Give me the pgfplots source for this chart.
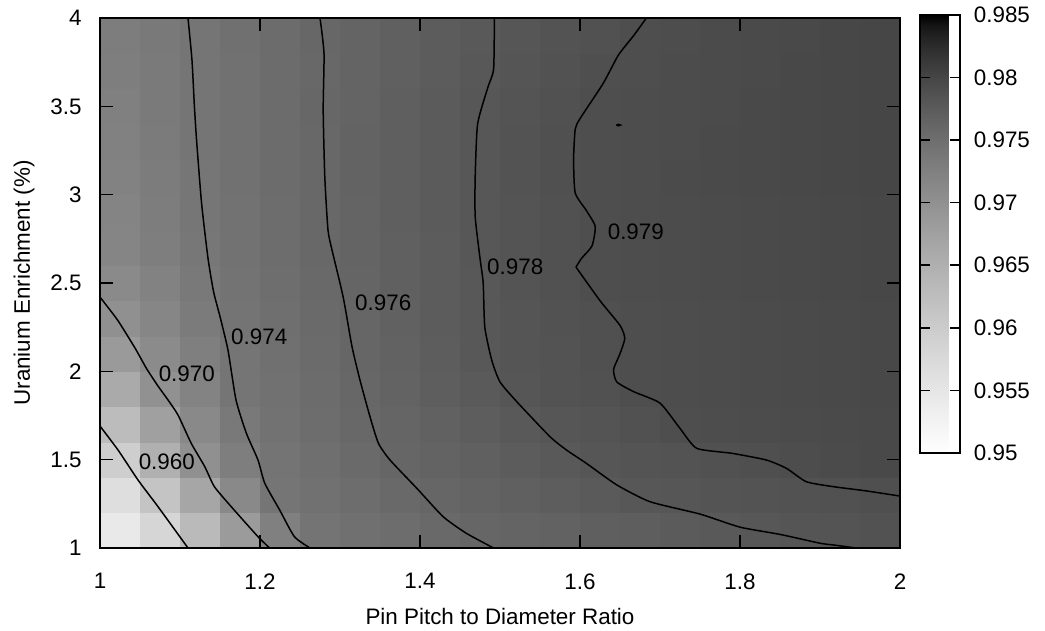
\documentclass[border=0pt]{standalone}
\usepackage{fontspec}
\setmainfont{Liberation Sans}
\usepackage{pgfplots}
\pgfplotsset{compat=1.18}

\begin{document}
\fontsize{11.2}{13}\selectfont
\begin{tikzpicture}
\path[use as bounding box] (-50pt,-41.5pt) rectangle (472.5pt,274pt);
\begin{axis}[
  at={(0,0)}, anchor=south west,
  scale only axis, width=400pt, height=265pt,
  xmin=1, xmax=2, ymin=1, ymax=4,
  enlargelimits=false, axis on top,
  xtick={1,1.2,1.4,1.6,1.8,2}, xticklabels={1,1.2,1.4,1.6,1.8,2},
  ytick={1,1.5,2,2.5,3,3.5,4}, yticklabels={1,1.5,2,2.5,3,3.5,4},
  tick align=inside, tick pos=both, major tick length=6.5pt,
  axis line style={line width=0.8pt}, every tick/.style={black,line width=0.8pt},
  xticklabel style={yshift=-8.8pt},
  yticklabel style={xshift=-5.3pt},
  xlabel={Pin Pitch to Diameter Ratio},
  ylabel={Uranium Enrichment (\%)},
  x label style={at={(axis description cs:0.5,0)}, anchor=center, yshift=-34pt},
  y label style={at={(axis description cs:0,0.5)}, anchor=center, yshift=38pt},
  colormap={gnugray}{gray(0cm)=(1); gray(2cm)=(0.9664); gray(4cm)=(0.9322);
    gray(6cm)=(0.8973); gray(8cm)=(0.8618); gray(10cm)=(0.8255); gray(12cm)=(0.7884);
    gray(14cm)=(0.7504); gray(16cm)=(0.7114); gray(18cm)=(0.6713); gray(20cm)=(0.6300);
    gray(22cm)=(0.5872); gray(24cm)=(0.5429); gray(26cm)=(0.4966); gray(28cm)=(0.4481);
    gray(30cm)=(0.3969); gray(32cm)=(0.3420); gray(34cm)=(0.2823); gray(36cm)=(0.2154);
    gray(38cm)=(0.1357); gray(39cm)=(0.0855); gray(40cm)=(0)},
  point meta min=0.95, point meta max=0.985,
  colorbar,
  colorbar style={
    at={(1.025,1.0057)}, anchor=north west,
    width=20pt, height=219pt,
    ytick={0.95,0.955,0.96,0.965,0.97,0.975,0.98,0.985},
    yticklabels={0.95,0.955,0.96,0.965,0.97,0.975,0.98,0.985},
    tick align=inside, ytick pos=both, yticklabel pos=right,
    major tick length=5pt,
    axis line style={line width=0.8pt}, every tick/.style={black,line width=0.8pt},
    yticklabel style={xshift=3pt},
  },
  contour/.style={black, line width=0.75pt, no markers, smooth, tension=0.35},
]
% cell colours: value of each cell stored at its lower-left corner
\addplot[surf, shader=flat corner, mesh/cols=21, point meta=explicit] table[meta=c] {
x y c
1.00 1.0 0.9545
1.05 1.0 0.9580
1.10 1.0 0.9632
1.15 1.0 0.9684
1.20 1.0 0.9725
1.25 1.0 0.9743
1.30 1.0 0.9748
1.35 1.0 0.9752
1.40 1.0 0.9757
1.45 1.0 0.9761
1.50 1.0 0.9764
1.55 1.0 0.9767
1.60 1.0 0.9770
1.65 1.0 0.9772
1.70 1.0 0.9775
1.75 1.0 0.9778
1.80 1.0 0.97805
1.85 1.0 0.9782
1.90 1.0 0.9784
1.95 1.0 0.9786
2.00 1.0 0.9786
1.00 1.2 0.9565
1.05 1.2 0.96135
1.10 1.2 0.96656
1.15 1.2 0.97119
1.20 1.2 0.97411
1.25 1.2 0.97464
1.30 1.2 0.97517
1.35 1.2 0.9757
1.40 1.2 0.97616
1.45 1.2 0.97654
1.50 1.2 0.97691
1.55 1.2 0.97729
1.60 1.2 0.97766
1.65 1.2 0.97802
1.70 1.2 0.97817
1.75 1.2 0.97832
1.80 1.2 0.97847
1.85 1.2 0.97862
1.90 1.2 0.97877
1.95 1.2 0.97892
2.00 1.2 0.97892
1.00 1.4 0.9595
1.05 1.4 0.96495
1.10 1.4 0.97021
1.15 1.4 0.97277
1.20 1.4 0.97432
1.25 1.4 0.97493
1.30 1.4 0.97555
1.35 1.4 0.97611
1.40 1.4 0.97653
1.45 1.4 0.97695
1.50 1.4 0.97737
1.55 1.4 0.97779
1.60 1.4 0.97811
1.65 1.4 0.97832
1.70 1.4 0.97854
1.75 1.4 0.97875
1.80 1.4 0.97897
1.85 1.4 0.97918
1.90 1.4 0.97939
1.95 1.4 0.9796
2.00 1.4 0.9796
1.00 1.6 0.96286
1.05 1.6 0.96762
1.10 1.6 0.9712
1.15 1.6 0.97361
1.20 1.6 0.97454
1.25 1.6 0.97517
1.30 1.6 0.97581
1.35 1.6 0.97633
1.40 1.6 0.97679
1.45 1.6 0.97726
1.50 1.6 0.97772
1.55 1.6 0.97812
1.60 1.6 0.97842
1.65 1.6 0.97871
1.70 1.6 0.97901
1.75 1.6 0.97913
1.80 1.6 0.97926
1.85 1.6 0.97938
1.90 1.6 0.9795
1.95 1.6 0.97962
2.00 1.6 0.97962
1.00 1.8 0.9660
1.05 1.8 0.9700
1.10 1.8 0.97211
1.15 1.8 0.97406
1.20 1.8 0.9747
1.25 1.8 0.97534
1.30 1.8 0.97597
1.35 1.8 0.97654
1.40 1.8 0.9771
1.45 1.8 0.97766
1.50 1.8 0.97813
1.55 1.8 0.97844
1.60 1.8 0.97875
1.65 1.8 0.97903
1.70 1.8 0.97915
1.75 1.8 0.97928
1.80 1.8 0.9794
1.85 1.8 0.97953
1.90 1.8 0.97966
1.95 1.8 0.9798
2.00 1.8 0.9798
1.00 2.0 0.9685
1.05 2.0 0.97098
1.10 2.0 0.97274
1.15 2.0 0.97418
1.20 2.0 0.97483
1.25 2.0 0.97547
1.30 2.0 0.9761
1.35 2.0 0.97669
1.40 2.0 0.97727
1.45 2.0 0.97785
1.50 2.0 0.97823
1.55 2.0 0.97854
1.60 2.0 0.97886
1.65 2.0 0.97907
1.70 2.0 0.97919
1.75 2.0 0.97932
1.80 2.0 0.97944
1.85 2.0 0.97956
1.90 2.0 0.97968
1.95 2.0 0.9798
2.00 2.0 0.9798
1.00 2.2 0.97021
1.05 2.2 0.97173
1.10 2.2 0.97324
1.15 2.2 0.97432
1.20 2.2 0.97495
1.25 2.2 0.97558
1.30 2.2 0.97619
1.35 2.2 0.97677
1.40 2.2 0.97734
1.45 2.2 0.97791
1.50 2.2 0.97826
1.55 2.2 0.97857
1.60 2.2 0.97888
1.65 2.2 0.97907
1.70 2.2 0.97919
1.75 2.2 0.97932
1.80 2.2 0.97944
1.85 2.2 0.97956
1.90 2.2 0.97968
1.95 2.2 0.9798
2.00 2.2 0.9798
1.00 2.4 0.9710
1.05 2.4 0.97232
1.10 2.4 0.97361
1.15 2.4 0.97444
1.20 2.4 0.97506
1.25 2.4 0.97569
1.30 2.4 0.97628
1.35 2.4 0.97684
1.40 2.4 0.9774
1.45 2.4 0.97796
1.50 2.4 0.97835
1.55 2.4 0.97873
1.60 2.4 0.97904
1.65 2.4 0.97916
1.70 2.4 0.97928
1.75 2.4 0.9794
1.80 2.4 0.97953
1.85 2.4 0.97965
1.90 2.4 0.97978
1.95 2.4 0.9799
2.00 2.4 0.9799
1.00 2.6 0.9718
1.05 2.6 0.97282
1.10 2.6 0.97384
1.15 2.6 0.97454
1.20 2.6 0.97518
1.25 2.6 0.97582
1.30 2.6 0.97639
1.35 2.6 0.97692
1.40 2.6 0.97746
1.45 2.6 0.9780
1.50 2.6 0.97836
1.55 2.6 0.97873
1.60 2.6 0.97903
1.65 2.6 0.97915
1.70 2.6 0.97928
1.75 2.6 0.9794
1.80 2.6 0.97953
1.85 2.6 0.97965
1.90 2.6 0.97978
1.95 2.6 0.9799
2.00 2.6 0.9799
1.00 2.8 0.9720
1.05 2.8 0.97296
1.10 2.8 0.97392
1.15 2.8 0.9746
1.20 2.8 0.97525
1.25 2.8 0.9759
1.30 2.8 0.97645
1.35 2.8 0.97699
1.40 2.8 0.97753
1.45 2.8 0.97804
1.50 2.8 0.97841
1.55 2.8 0.97877
1.60 2.8 0.97905
1.65 2.8 0.97917
1.70 2.8 0.97929
1.75 2.8 0.97941
1.80 2.8 0.97953
1.85 2.8 0.97966
1.90 2.8 0.97978
1.95 2.8 0.9799
2.00 2.8 0.9799
1.00 3.0 0.9722
1.05 3.0 0.97311
1.10 3.0 0.97401
1.15 3.0 0.97465
1.20 3.0 0.97529
1.25 3.0 0.97592
1.30 3.0 0.97647
1.35 3.0 0.9770
1.40 3.0 0.97753
1.45 3.0 0.97805
1.50 3.0 0.97846
1.55 3.0 0.97886
1.60 3.0 0.97909
1.65 3.0 0.97922
1.70 3.0 0.97935
1.75 3.0 0.97948
1.80 3.0 0.97961
1.85 3.0 0.97974
1.90 3.0 0.97987
1.95 3.0 0.9800
2.00 3.0 0.9800
1.00 3.2 0.9724
1.05 3.2 0.97323
1.10 3.2 0.97405
1.15 3.2 0.97468
1.20 3.2 0.97531
1.25 3.2 0.97594
1.30 3.2 0.97647
1.35 3.2 0.9770
1.40 3.2 0.97753
1.45 3.2 0.97804
1.50 3.2 0.97844
1.55 3.2 0.97884
1.60 3.2 0.97908
1.65 3.2 0.97921
1.70 3.2 0.97934
1.75 3.2 0.97947
1.80 3.2 0.9796
1.85 3.2 0.97974
1.90 3.2 0.97987
1.95 3.2 0.9800
2.00 3.2 0.9800
1.00 3.4 0.9726
1.05 3.4 0.97335
1.10 3.4 0.97409
1.15 3.4 0.97471
1.20 3.4 0.97533
1.25 3.4 0.97595
1.30 3.4 0.97646
1.35 3.4 0.97697
1.40 3.4 0.97747
1.45 3.4 0.97797
1.50 3.4 0.97837
1.55 3.4 0.97876
1.60 3.4 0.97905
1.65 3.4 0.97919
1.70 3.4 0.97932
1.75 3.4 0.97946
1.80 3.4 0.97959
1.85 3.4 0.97973
1.90 3.4 0.97986
1.95 3.4 0.9800
2.00 3.4 0.9800
1.00 3.6 0.9728
1.05 3.6 0.97346
1.10 3.6 0.97411
1.15 3.6 0.97472
1.20 3.6 0.97533
1.25 3.6 0.97594
1.30 3.6 0.97643
1.35 3.6 0.9769
1.40 3.6 0.97737
1.45 3.6 0.97785
1.50 3.6 0.97823
1.55 3.6 0.97857
1.60 3.6 0.97891
1.65 3.6 0.97911
1.70 3.6 0.97926
1.75 3.6 0.9794
1.80 3.6 0.97955
1.85 3.6 0.9797
1.90 3.6 0.97985
1.95 3.6 0.9800
2.00 3.6 0.9800
1.00 3.8 0.9730
1.05 3.8 0.97357
1.10 3.8 0.97416
1.15 3.8 0.97476
1.20 3.8 0.97537
1.25 3.8 0.97598
1.30 3.8 0.97644
1.35 3.8 0.97691
1.40 3.8 0.97737
1.45 3.8 0.97783
1.50 3.8 0.97818
1.55 3.8 0.97847
1.60 3.8 0.97876
1.65 3.8 0.97903
1.70 3.8 0.97919
1.75 3.8 0.97935
1.80 3.8 0.97951
1.85 3.8 0.97968
1.90 3.8 0.97984
1.95 3.8 0.9800
2.00 3.8 0.9800
1.00 4.0 0.9730
1.05 4.0 0.97357
1.10 4.0 0.97416
1.15 4.0 0.97476
1.20 4.0 0.97537
1.25 4.0 0.97598
1.30 4.0 0.97644
1.35 4.0 0.97691
1.40 4.0 0.97737
1.45 4.0 0.97783
1.50 4.0 0.97818
1.55 4.0 0.97847
1.60 4.0 0.97876
1.65 4.0 0.97903
1.70 4.0 0.97919
1.75 4.0 0.97935
1.80 4.0 0.97951
1.85 4.0 0.97968
1.90 4.0 0.97984
1.95 4.0 0.9800
2.00 4.0 0.9800
};
% contour 0.960
\addplot[contour] coordinates {
(1,1.69) (1.0225,1.555) (1.0475,1.385) (1.0725,1.234) (1.11,1.0)};
% contour 0.970
\addplot[contour] coordinates {
(1,2.42) (1.022,2.29) (1.044,2.13) (1.058,2.017) (1.072,1.92) (1.085,1.838)
(1.0975,1.753) (1.114,1.593) (1.131,1.46) (1.143,1.347) (1.164,1.234)
(1.1975,1.064) (1.212,1.0)};
% contour 0.974
\addplot[contour] coordinates {
(1.110,4.0) (1.115,3.76) (1.118,3.5) (1.121,3.29) (1.127,2.95) (1.135,2.64)
(1.142,2.45) (1.15,2.31) (1.16,2.12) (1.170,1.838) (1.183,1.649) (1.1975,1.498)
(1.206,1.366) (1.2246,1.215) (1.243,1.064) (1.2625,1.0)};
% contour 0.976
\addplot[contour] coordinates {
(1.275,4.0) (1.280,3.80) (1.279,3.48) (1.281,3.10) (1.285,2.80) (1.290,2.687)
(1.304,2.42) (1.315,2.14) (1.325,1.95) (1.3375,1.743) (1.348,1.593) (1.3625,1.498)
(1.396,1.338) (1.429,1.177) (1.458,1.083) (1.492,1.0)};
% contour 0.978
\addplot[contour] coordinates {
(1.493,4.0) (1.492,3.71) (1.485,3.61) (1.472,3.40) (1.469,3.10) (1.469,2.875)
(1.475,2.64) (1.479,2.50) (1.481,2.25) (1.4896,2.064) (1.50,1.94) (1.521,1.828)
(1.5625,1.63) (1.583,1.555) (1.608,1.479) (1.646,1.357) (1.6875,1.262) (1.75,1.192)
(1.80,1.118) (1.85,1.077) (1.90,1.027) (1.917,1.017) (1.945,1.0)};
% contour 0.979
\addplot[contour] coordinates {
(1.683,4.0) (1.667,3.90) (1.648,3.79) (1.629,3.63) (1.60,3.43) (1.594,3.37)
(1.592,3.20) (1.594,3.01) (1.608,2.91) (1.619,2.82) (1.615,2.71) (1.602,2.64)
(1.595,2.59)};
\addplot[contour] coordinates {
(1.595,2.59) (1.625,2.40) (1.65,2.26) (1.656,2.187) (1.65,2.10) (1.642,2.01)
(1.646,1.94) (1.667,1.885) (1.70,1.82) (1.725,1.677) (1.746,1.564) (1.79,1.536)
(1.833,1.498) (1.858,1.451) (1.883,1.375) (1.917,1.347) (1.958,1.323) (2.0,1.294)};
\addplot[black, line width=0.75pt, no markers] coordinates {
(1.6455,3.394) (1.648,3.398) (1.6505,3.394) (1.648,3.390) (1.6455,3.394)};
\node at (axis cs:1.0835,1.489) {0.960};
\node at (axis cs:1.1085,1.985) {0.970};
\node at (axis cs:1.199,2.193) {0.974};
\node at (axis cs:1.354,2.389) {0.976};
\node at (axis cs:1.519,2.592) {0.978};
\node at (axis cs:1.6698,2.790) {0.979};
\end{axis}
\end{tikzpicture}
\end{document}
